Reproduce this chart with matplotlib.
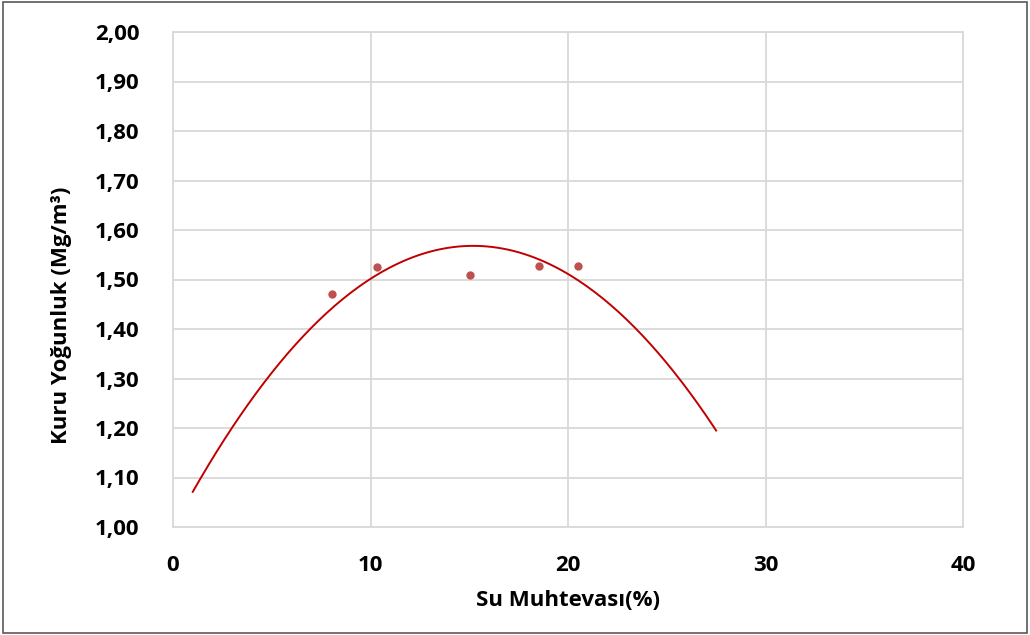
import numpy as np
import matplotlib.pyplot as plt
from matplotlib.patches import Rectangle

# measured points
su = [8.05, 10.33, 15.04, 18.53, 20.5]
yogunluk = [1.471, 1.525, 1.509, 1.527, 1.527]

# trend curve
curve_x = [1, 3, 5, 7, 9, 11, 13, 15, 17, 19, 21, 23, 25, 27.5]
curve_y = [1.071, 1.201, 1.312, 1.402, 1.473, 1.525, 1.556, 1.568,
           1.560, 1.532, 1.485, 1.418, 1.331, 1.195]

x_ticks = [0, 10, 20, 30, 40]
y_ticks = [1.0, 1.1, 1.2, 1.3, 1.4, 1.5, 1.6, 1.7, 1.8, 1.9, 2.0]

plt.rcParams['font.family'] = ['Open Sans', 'DejaVu Sans']
plt.rcParams['font.weight'] = 'bold'

fig = plt.figure(figsize=(10.3, 6.35), dpi=100)
ax = fig.add_axes([173 / 1030, 1 - 527 / 635, 790 / 1030, 495 / 635])

# smooth quadratic trendline through the read curve
coef = np.polyfit(curve_x, curve_y, 2)
xs = np.linspace(curve_x[0], curve_x[-1], 200)
ax.plot(xs, np.polyval(coef, xs), color="#C00000", lw=1.4, zorder=3)

ax.plot(su, yogunluk, 'o', color="#C0504D", ms=6, mec="none", zorder=4)

ax.set_xlim(0, 40)
ax.set_ylim(1.0, 2.0)
ax.set_xticks(x_ticks)
ax.set_yticks(y_ticks)
ax.set_yticklabels([f"{v:.2f}".replace(".", ",") for v in y_ticks])
ax.tick_params(length=0, labelsize=16, pad=24)
ax.tick_params(axis='x', pad=20)
for lbl in ax.get_xticklabels() + ax.get_yticklabels():
    lbl.set_fontweight('bold')

ax.grid(True, color="#D9D9D9", lw=1.3)
ax.set_axisbelow(True)
for s in ax.spines.values():
    s.set_color("#D9D9D9")
    s.set_linewidth(1.3)

ax.set_xlabel("Su Muhtevası(%)", fontsize=16, fontweight='bold', labelpad=10)
ax.set_ylabel("Kuru Yoğunluk (Mg/m³)", fontsize=16, fontweight='bold')
ax.yaxis.set_label_coords(-0.128, 0.428)

fig.patches.append(Rectangle((0.003, 0.003), 0.994, 0.994, transform=fig.transFigure,
                             fill=False, edgecolor="#595959", lw=1.2))

fig.savefig("out.png", dpi=100)
